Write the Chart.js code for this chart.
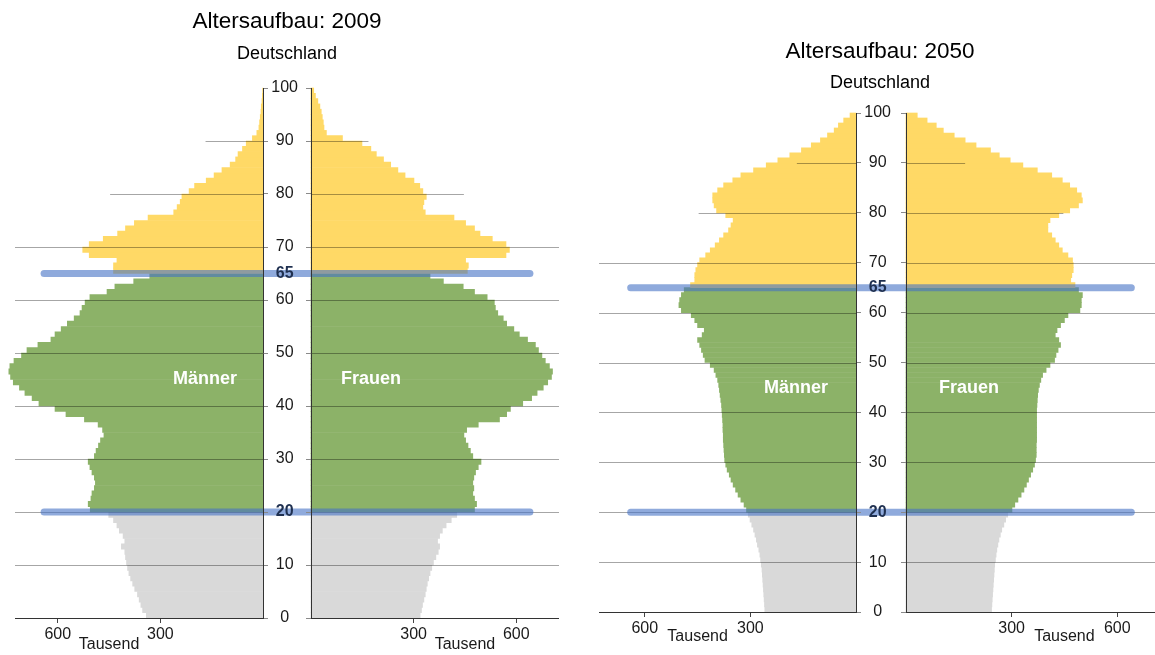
<!DOCTYPE html>
<html>
<head>
<meta charset="utf-8">
<script src="https://cdn.jsdelivr.net/npm/chart.js@4.4.1/dist/chart.umd.min.js"></script>
<style>
  body { margin: 0; width: 1155px; height: 655px; overflow: hidden; background: #fff; position: relative;
         font-family: "Liberation Sans", Arial, sans-serif; }
  canvas { position: absolute; top: 0; }
  .txt { position: absolute; transform: translate(-50%, -50%); white-space: nowrap; color: #000; }
  .title { font-size: 22.5px; }
  .sub { font-size: 18px; }
  .sex { font-size: 18px; font-weight: bold; color: #fff; }
</style>
</head>
<body>
<canvas id="men2009" width="268" height="655" style="left:0px"></canvas>
<canvas id="women2009" width="291" height="655" style="left:268px"></canvas>
<canvas id="men2050" width="271" height="655" style="left:590px"></canvas>
<canvas id="women2050" width="302" height="655" style="left:861px"></canvas>

<div class="txt title" style="left:287px; top:21px">Altersaufbau: 2009</div>
<div class="txt sub" style="left:287px; top:53px">Deutschland</div>
<div class="txt title" style="left:880px; top:51px">Altersaufbau: 2050</div>
<div class="txt sub" style="left:880px; top:82px">Deutschland</div>
<div class="txt sex" style="left:205px; top:378px">Männer</div>
<div class="txt sex" style="left:371px; top:378px">Frauen</div>
<div class="txt sex" style="left:796px; top:387px">Männer</div>
<div class="txt sex" style="left:969px; top:387px">Frauen</div>

<script>
// Alter 0..99 (Balken je Jahrgang), Werte in Tausend
const ages = [0,1,2,3,4,5,6,7,8,9,10,11,12,13,14,15,16,17,18,19,
  20,21,22,23,24,25,26,27,28,29,30,31,32,33,34,35,36,37,38,39,
  40,41,42,43,44,45,46,47,48,49,50,51,52,53,54,55,56,57,58,59,
  60,61,62,63,64,65,66,67,68,69,70,71,72,73,74,75,76,77,78,79,
  80,81,82,83,84,85,86,87,88,89,90,91,92,93,94,95,96,97,98,99];

const men2009 = [341,352,357,362,367,375,381,387,392,396,399,402,404,414,404,409,420,427,437,451,
  505,511,503,500,493,490,493,500,506,511,493,488,481,475,465,469,482,522,576,608,
  655,675,696,712,730,738,743,740,728,706,690,658,620,608,590,572,552,535,529,520,
  506,456,433,378,331,437,437,427,508,527,508,467,425,402,376,336,261,251,242,237,
  216,200,166,143,120,96,80,73,60,49,31,18,12,10,8,6,5,3,2,1];

const women2009 = [319,323,326,330,334,337,340,344,348,353,358,365,372,376,370,376,384,395,410,426,
  478,484,478,473,476,473,476,481,489,497,473,466,459,452,447,455,489,551,572,583,
  619,645,661,679,692,703,706,697,685,675,665,656,633,609,593,572,562,546,539,536,
  515,478,445,387,348,457,460,452,570,580,570,530,494,478,452,418,334,327,330,337,
  327,318,301,275,254,233,212,191,175,149,92,45,38,36,33,30,26,20,13,8];

const men2050 = [259,260,261,262,263,264,265,266,267,269,271,273,276,280,283,287,291,296,301,306,
  311,318,327,335,342,349,355,360,366,370,373,374,375,376,377,377,378,378,379,380,
  381,382,384,386,388,390,393,398,403,414,429,434,439,444,450,437,431,450,458,468,
  496,503,501,496,488,470,458,458,455,450,444,427,414,400,388,376,362,355,349,370,
  396,403,407,407,393,376,350,327,291,255,222,188,155,127,101,81,62,50,35,17];

const women2050 = [243,244,245,246,247,248,249,250,251,252,254,256,258,261,264,268,272,278,283,289,
  301,309,318,327,335,342,348,354,360,365,368,370,370,370,371,371,371,371,371,371,
  371,372,373,374,376,379,383,388,398,409,422,426,432,439,434,424,429,439,450,460,
  494,498,498,501,490,480,468,471,475,475,473,460,444,434,424,414,403,403,409,434,
  465,490,501,498,485,465,444,414,373,332,296,265,240,199,168,137,106,86,60,32];

// Altersgrenzen der Farbbereiche und Achsen
const bandStarts = [20, 65];
const ageTicks = [0, 10, 20, 30, 40, 50, 60, 65, 70, 80, 90, 100];
const boldAges = [20, 65];
const valueTicks = [300, 600];
const gridAges = [10, 20, 30, 40, 50, 60, 70, 80, 90];
const gridReach = [null, null, null, null, null, null, null, 447, 168];
const markerAges = [20, 65];
const markerReach = 640;
const unitLabel = "Tausend";
const unitAt = 450;

const GREY = "#d9d9d9", GREEN = "#8cb268", YELLOW = "#ffd966";
const NARROW = '"Liberation Sans Narrow", "Arial Narrow", "Liberation Sans", sans-serif';

const isBold = c => !!(c && c.tick && boldAges.includes(c.tick.value));

const overlay = {
  id: "overlay",
  afterDatasetsDraw(chart, args, opts) {
    const { ctx, scales: { x, y } } = chart;
    ctx.save();
    ctx.strokeStyle = "rgba(0,0,0,0.35)";
    ctx.lineWidth = 1;
    gridAges.forEach((age, i) => {
      const reach = gridReach[i] == null ? x.max : gridReach[i];
      const py = Math.round(y.getPixelForValue(age)) + 0.5;
      ctx.beginPath();
      ctx.moveTo(x.getPixelForValue(0), py);
      ctx.lineTo(x.getPixelForValue(reach), py);
      ctx.stroke();
    });
    ctx.strokeStyle = "rgba(68,114,196,0.6)";
    ctx.lineWidth = 7;
    ctx.lineCap = "round";
    markerAges.forEach(age => {
      const py = y.getPixelForValue(age);
      ctx.beginPath();
      ctx.moveTo(opts.men ? chart.width + 10 : -10, py);
      ctx.lineTo(x.getPixelForValue(markerReach), py);
      ctx.stroke();
    });
    ctx.fillStyle = "#1a1a1a";
    ctx.font = "16px " + NARROW;
    ctx.textAlign = "center";
    ctx.textBaseline = "middle";
    ctx.fillText(unitLabel, x.getPixelForValue(unitAt), chart.chartArea.bottom + opts.unitDy);
    ctx.restore();
  }
};

function halfPyramid(id, values, men, frame) {
  return new Chart(document.getElementById(id), {
    type: "bar",
    data: {
      datasets: [{
        data: ages.map((a, i) => ({ x: values[i], y: a + 0.5 })),
        backgroundColor: ages.map(a => a < bandStarts[0] ? GREY : a < bandStarts[1] ? GREEN : YELLOW),
        barPercentage: 1,
        categoryPercentage: 1,
        borderWidth: 0,
        clip: false
      }]
    },
    options: {
      indexAxis: "y",
      responsive: false,
      animation: false,
      layout: { padding: { top: frame.top, left: men ? frame.outer : 0, right: 0, bottom: 0 } },
      plugins: {
        legend: { display: false },
        tooltip: { enabled: false },
        overlay: { men: men, unitDy: frame.unitDy }
      },
      scales: {
        x: {
          type: "linear", min: 0, max: frame.max, reverse: men,
          afterBuildTicks: s => { s.ticks = valueTicks.map(v => ({ value: v })); },
          afterFit: s => { s.height = frame.bottom; },
          grid: { drawOnChartArea: false, drawTicks: true, tickLength: 5, color: "#444", z: 1 },
          border: { color: "#333", z: 1 },
          ticks: { padding: 2, color: "#1a1a1a", autoSkip: false, maxRotation: 0, z: 1,
                   font: { family: NARROW, size: 16 } }
        },
        y: {
          type: "linear", min: 0, max: 100, position: men ? "right" : "left",
          offset: false,
          afterBuildTicks: s => { s.ticks = ageTicks.map(v => ({ value: v })); },
          afterFit: s => { s.width = men ? 5 : frame.gap; },
          grid: { offset: false, drawOnChartArea: false, tickLength: 5, z: 1,
                  color: c => (c && c.tick && c.tick.value === 65) ? "rgba(0,0,0,0)" : "#8a8a8a" },
          border: { color: "#333", z: 1 },
          ticks: {
            display: !men, crossAlign: "center", padding: frame.pad, autoSkip: false, z: 1,
            color: c => isBold(c) ? "#1f3050" : "#1a1a1a",
            font: c => ({ family: NARROW, size: 16, weight: isBold(c) ? "bold" : "normal" })
          }
        }
      }
    },
    plugins: [overlay]
  });
}

halfPyramid("men2009", men2009, true, { top: 88, bottom: 37, outer: 15, max: 725, unitDy: 27 });
halfPyramid("women2009", women2009, false, { top: 88, bottom: 37, gap: 43, pad: 8, max: 725, unitDy: 27 });
halfPyramid("men2050", men2050, true, { top: 113, bottom: 43, outer: 9, max: 730, unitDy: 25 });
halfPyramid("women2050", women2050, false, { top: 113, bottom: 43, gap: 45, pad: 10, max: 730, unitDy: 25 });
</script>
</body>
</html>
